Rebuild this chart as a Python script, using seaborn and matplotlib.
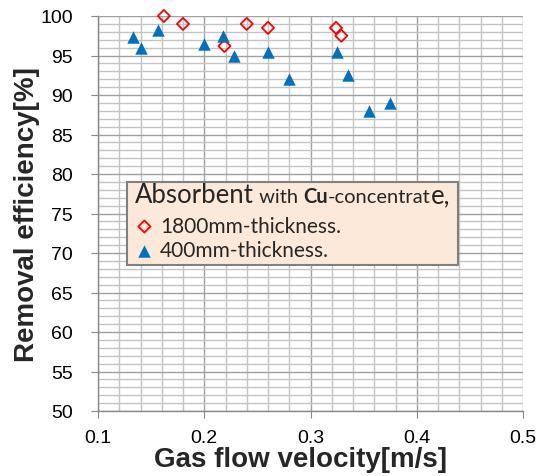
import numpy as np
import pandas as pd
import seaborn as sns
import matplotlib.pyplot as plt
from matplotlib.patches import Rectangle
from matplotlib.offsetbox import TextArea, HPacker, AnchoredOffsetbox
from matplotlib.ticker import MultipleLocator

# 1800mm-thickness (open red diamonds)
vel_1800 = [0.162, 0.180, 0.219, 0.240, 0.260, 0.324, 0.329]
eff_1800 = [100.0, 99.0, 96.2, 99.0, 98.5, 98.5, 97.5]

# 400mm-thickness (filled blue triangles)
vel_400 = [0.133, 0.140, 0.156, 0.200, 0.218, 0.228, 0.260, 0.280, 0.325, 0.335, 0.355, 0.375]
eff_400 = [97.3, 96.0, 98.2, 96.4, 97.5, 95.0, 95.5, 92.0, 95.5, 92.5, 88.0, 89.0]

df_1800 = pd.DataFrame({"vel": vel_1800, "eff": eff_1800})
df_400 = pd.DataFrame({"vel": vel_400, "eff": eff_400})

sns.set_style("white")
plt.rcParams["font.family"] = ["Liberation Sans", "DejaVu Sans"]

fig = plt.figure(figsize=(5.37, 4.77), dpi=100)
ax = fig.add_axes([98 / 537, 1 - 412 / 477, 425 / 537, 395 / 477])

# grid
ax.xaxis.set_major_locator(MultipleLocator(0.1))
ax.xaxis.set_minor_locator(MultipleLocator(0.02))
ax.yaxis.set_major_locator(MultipleLocator(5))
ax.yaxis.set_minor_locator(MultipleLocator(1))
ax.grid(which="minor", color="#c4c4c4", linewidth=1.0)
ax.grid(which="major", color="#a0a0a0", linewidth=1.0)
ax.set_axisbelow(True)

sns.scatterplot(data=df_1800, x="vel", y="eff", ax=ax, marker="D", s=38,
                color="#FF0000", linewidth=1.3, label="1800mm-thickness.", zorder=3,
                clip_on=False)
sns.scatterplot(data=df_400, x="vel", y="eff", ax=ax, marker="^", s=80,
                color="#0070C0", linewidth=0, label="400mm-thickness.", zorder=3,
                clip_on=False)
ax.collections[0].set_facecolor("none")
ax.collections[0].set_edgecolor("#FF0000")

ax.set_xlim(0.1, 0.5)
ax.set_ylim(50, 100)
ax.set_xticks([0.1, 0.2, 0.3, 0.4, 0.5])
ax.set_xticklabels(["0.1", "0.2", "0.3", "0.4", "0.5"])
ax.set_yticks(range(50, 101, 5))

for side in ["top", "right"]:
    ax.spines[side].set_visible(False)
for side in ["left", "bottom"]:
    ax.spines[side].set_color("#888888")
    ax.spines[side].set_linewidth(1.0)
ax.tick_params(which="major", direction="out", length=5, color="#888888",
               labelsize=14, labelcolor="black", left=True, bottom=True)
ax.tick_params(axis="y", pad=13)
ax.tick_params(axis="x", pad=8)
ax.tick_params(which="minor", length=0)

ax.set_xlabel("Gas flow velocity[m/s]", fontsize=20, fontweight="bold", labelpad=0)
ax.set_ylabel("Removal efficiency[%]", fontsize=20, fontweight="bold", labelpad=0)
ax.xaxis.label.set_x((300 - 98) / 425)

# legend box
box = Rectangle((127 / 537, 1 - 266 / 477), 331 / 537, 83 / 477, transform=fig.transFigure,
                facecolor="#FDE9D9", edgecolor="#808080", linewidth=1.5, zorder=5,
                clip_on=False)
ax.add_patch(box)

big, small = 18.5, 14.5
parts = [TextArea("Absorbent", textprops=dict(fontsize=big, family="Lato")),
         TextArea(" with ", textprops=dict(fontsize=small, family="Lato")),
         TextArea("Cu", textprops=dict(fontsize=small, family="Lato", fontweight="bold")),
         TextArea("-concentrat", textprops=dict(fontsize=small, family="Lato")),
         TextArea("e,", textprops=dict(fontsize=big, family="Lato"))]
title = HPacker(children=parts, align="baseline", pad=0, sep=0)
anch = AnchoredOffsetbox(loc="upper left", child=title, pad=0, borderpad=0, frameon=False,
                         bbox_to_anchor=(135 / 537, 1 - 183 / 477), bbox_transform=fig.transFigure)
anch.set_zorder(6)
ax.add_artist(anch)

leg = ax.legend(loc="upper left", bbox_to_anchor=(134 / 537, 1 - 217 / 477),
                bbox_transform=fig.transFigure, frameon=False, prop=dict(family="Lato", size=15),
                handletextpad=0.25, handlelength=1.0, borderaxespad=0, borderpad=0,
                labelspacing=0.2)
leg.set_zorder(6)

fig.savefig("out.png", dpi=100)
